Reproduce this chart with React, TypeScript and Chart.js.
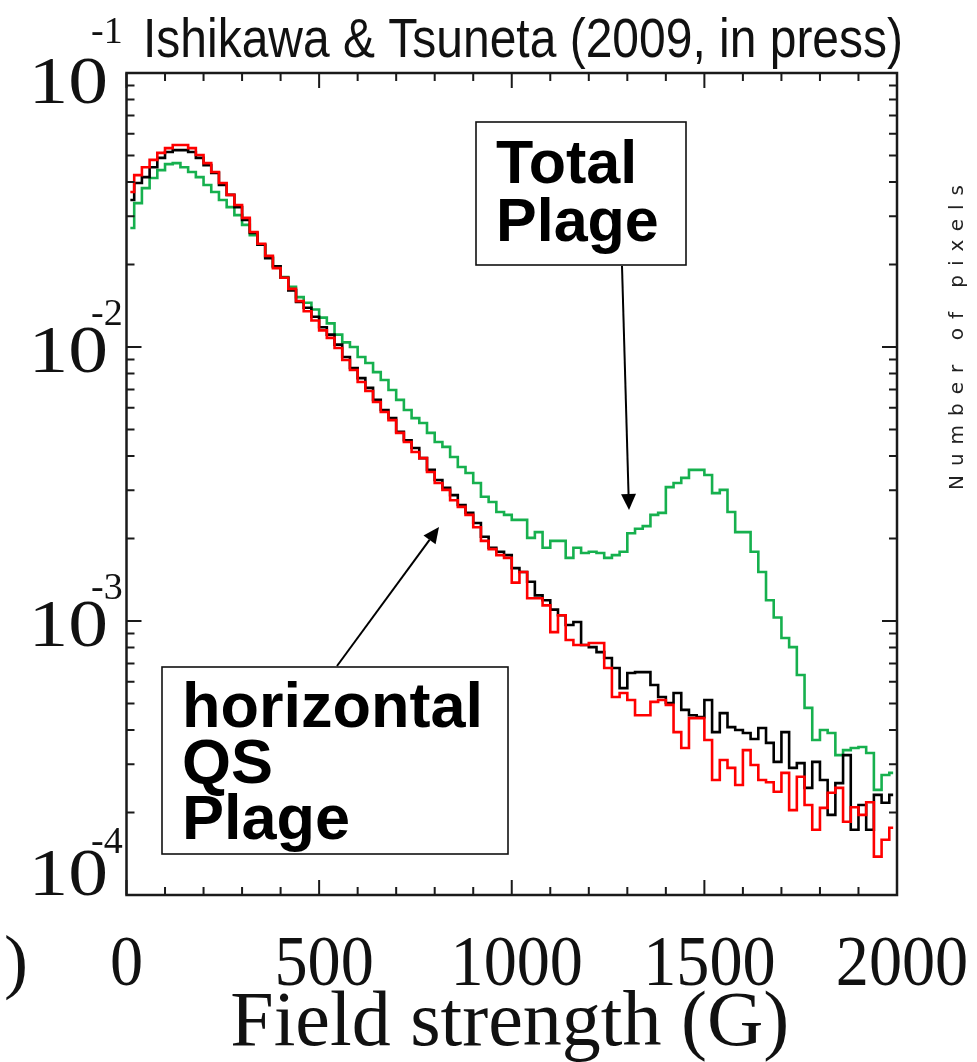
import React, { useEffect, useRef } from "react";
import { Chart, registerables } from "chart.js";

Chart.register(...registerables);

const W = 977;
const H = 1062;

// bin centres (G)
const fieldStrengthG = [
  10, 30, 50, 70, 90, 110, 130, 150, 170, 190,
  210, 230, 250, 270, 290, 310, 330, 350, 370, 390,
  410, 430, 450, 470, 490, 510, 530, 550, 570, 590,
  610, 630, 650, 670, 690, 710, 730, 750, 770, 790,
  810, 830, 850, 870, 890, 910, 930, 950, 970, 990,
  1010, 1030, 1050, 1070, 1090, 1110, 1130, 1150, 1170, 1190,
  1210, 1230, 1250, 1270, 1290, 1310, 1330, 1350, 1370, 1390,
  1410, 1430, 1450, 1470, 1490, 1510, 1530, 1550, 1570, 1590,
  1610, 1630, 1650, 1670, 1690, 1710, 1730, 1750, 1770, 1790,
  1810, 1830, 1850, 1870, 1890, 1910, 1930, 1950, 1970, 1990,
];

// black histogram (horizontal QS)
const horizontalQS = [
  3.44e-2, 3.97e-2, 4.17e-2, 4.53e-2, 4.9e-2, 5.15e-2, 5.23e-2, 5.23e-2, 5.15e-2, 4.9e-2,
  4.61e-2, 4.32e-2, 3.9e-2, 3.59e-2, 3.24e-2, 2.91e-2, 2.61e-2, 2.36e-2, 2.11e-2, 1.97e-2,
  1.79e-2, 1.61e-2, 1.46e-2, 1.39e-2, 1.29e-2, 1.18e-2, 1.11e-2, 1.02e-2, 9.19e-3, 8.38e-3,
  7.7e-3, 7.09e-3, 6.41e-3, 5.89e-3, 5.5e-3, 4.9e-3, 4.57e-3, 4.28e-3, 3.93e-3, 3.56e-3,
  3.27e-3, 3.06e-3, 2.88e-3, 2.65e-3, 2.48e-3, 2.28e-3, 2.03e-3, 1.85e-3, 1.79e-3, 1.74e-3,
  1.56e-3, 1.51e-3, 1.39e-3, 1.24e-3, 1.19e-3, 1.1e-3, 1.05e-3, 9.67e-4, 9.92e-4, 8.17e-4,
  8.03e-4, 7.7e-4, 7.33e-4, 6.74e-4, 5.69e-4, 6.46e-4, 6.51e-4, 6.51e-4, 5.84e-4, 5.28e-4,
  5.02e-4, 5.46e-4, 4.74e-4, 4.53e-4, 4.46e-4, 5.15e-4, 3.93e-4, 4.61e-4, 4.1e-4, 4.0e-4,
  3.9e-4, 3.71e-4, 4.07e-4, 3.59e-4, 3.06e-4, 3.93e-4, 2.91e-4, 3.03e-4, 2.46e-4, 3.06e-4,
  2.63e-4, 1.96e-4, 2.56e-4, 3.24e-4, 1.73e-4, 2.13e-4, 1.73e-4, 2.32e-4, 2.17e-4, 2.32e-4,
];

// red histogram (horizontal Plage)
const horizontalPlage = [
  3.68e-2, 4.24e-2, 4.53e-2, 4.82e-2, 5.11e-2, 5.32e-2, 5.46e-2, 5.46e-2, 5.32e-2, 5.02e-2,
  4.69e-2, 4.35e-2, 3.97e-2, 3.59e-2, 3.3e-2, 2.96e-2, 2.63e-2, 2.38e-2, 2.15e-2, 1.94e-2,
  1.79e-2, 1.63e-2, 1.47e-2, 1.35e-2, 1.25e-2, 1.15e-2, 1.08e-2, 9.92e-3, 8.96e-3, 8.24e-3,
  7.45e-3, 6.91e-3, 6.3e-3, 5.79e-3, 5.41e-3, 4.86e-3, 4.5e-3, 4.14e-3, 3.93e-3, 3.5e-3,
  3.19e-3, 3.01e-3, 2.76e-3, 2.61e-3, 2.44e-3, 2.2e-3, 1.96e-3, 1.83e-3, 1.74e-3, 1.7e-3,
  1.38e-3, 1.51e-3, 1.21e-3, 1.21e-3, 1.14e-3, 9.11e-4, 1.05e-3, 8.52e-4, 8.17e-4, 8.17e-4,
  8.31e-4, 8.31e-4, 6.74e-4, 5.28e-4, 5.46e-4, 5.15e-4, 4.53e-4, 4.53e-4, 5.07e-4, 5.15e-4,
  4.94e-4, 3.93e-4, 3.44e-4, 4.42e-4, 4.42e-4, 3.68e-4, 2.63e-4, 3.11e-4, 2.91e-4, 2.52e-4,
  3.38e-4, 2.98e-4, 2.63e-4, 2.58e-4, 2.38e-4, 2.79e-4, 2.04e-4, 2.7e-4, 2.13e-4, 1.73e-4,
  2.08e-4, 2.36e-4, 2.46e-4, 1.85e-4, 2.09e-4, 1.96e-4, 2.18e-4, 1.38e-4, 1.59e-4, 1.76e-4,
];

// green histogram (Total Plage)
const totalPlage = [
  2.72e-2, 3.35e-2, 3.8e-2, 4.14e-2, 4.42e-2, 4.65e-2, 4.69e-2, 4.53e-2, 4.35e-2, 4.17e-2,
  3.9e-2, 3.68e-2, 3.44e-2, 3.24e-2, 3.03e-2, 2.79e-2, 2.56e-2, 2.36e-2, 2.13e-2, 1.96e-2,
  1.8e-2, 1.66e-2, 1.52e-2, 1.45e-2, 1.37e-2, 1.28e-2, 1.22e-2, 1.11e-2, 1.04e-2, 1.0e-2,
  9.19e-3, 8.74e-3, 8.1e-3, 7.58e-3, 6.97e-3, 6.41e-3, 5.89e-3, 5.5e-3, 5.28e-3, 4.86e-3,
  4.5e-3, 4.32e-3, 3.97e-3, 3.65e-3, 3.47e-3, 3.19e-3, 2.84e-3, 2.72e-3, 2.5e-3, 2.44e-3,
  2.34e-3, 2.34e-3, 2.01e-3, 2.11e-3, 1.85e-3, 1.96e-3, 1.96e-3, 1.7e-3, 1.85e-3, 1.77e-3,
  1.79e-3, 1.77e-3, 1.7e-3, 1.74e-3, 1.79e-3, 2.09e-3, 2.17e-3, 2.22e-3, 2.44e-3, 2.48e-3,
  3.08e-3, 3.19e-3, 3.33e-3, 3.56e-3, 3.56e-3, 3.41e-3, 2.93e-3, 3.01e-3, 2.5e-3, 2.11e-3,
  2.11e-3, 1.79e-3, 1.51e-3, 1.19e-3, 1.03e-3, 8.67e-4, 8.03e-4, 6.35e-4, 4.82e-4, 3.68e-4,
  4.0e-4, 3.9e-4, 3.24e-4, 3.38e-4, 3.44e-4, 3.47e-4, 3.3e-4, 2.42e-4, 2.74e-4, 2.79e-4,
];

const xTickValues = [0, 500, 1000, 1500, 2000];
const xTickLabels = ["0", "500", "1000", "1500", "2000"];
const yTickValues = [1e-1, 1e-2, 1e-3, 1e-4];
const yTickExponents = ["-1", "-2", "-3", "-4"];

const titleText = "Ishikawa & Tsuneta (2009, in press)";
const xAxisTitle = "Field strength (G)";
const sideLabel = "Number of pixels";
const totalBoxLines = ["Total", "Plage"];
const horizBoxLines = ["horizontal", "QS", "Plage"];
const cutLabel = ")";

const SERIF = "'Liberation Serif', 'Times New Roman', serif";
const SANS = "'Liberation Sans', Arial, sans-serif";

function toPoints(vals: number[]) {
  return vals.map((v, i) => ({ x: fieldStrengthG[i], y: v }));
}

function stretched(ctx: CanvasRenderingContext2D, text: string, x: number, y: number, sx: number, align: CanvasTextAlign) {
  ctx.save();
  ctx.translate(x, y);
  ctx.scale(sx, 1);
  ctx.textAlign = align;
  ctx.textBaseline = "alphabetic";
  ctx.fillText(text, 0, 0);
  ctx.restore();
}

function arrow(ctx: CanvasRenderingContext2D, x1: number, y1: number, x2: number, y2: number) {
  const ang = Math.atan2(y2 - y1, x2 - x1);
  const hl = 16;
  const hw = 7.5;
  const bx = x2 - hl * Math.cos(ang);
  const by = y2 - hl * Math.sin(ang);
  ctx.beginPath();
  ctx.moveTo(x1, y1);
  ctx.lineTo(bx, by);
  ctx.stroke();
  ctx.beginPath();
  ctx.moveTo(x2, y2);
  ctx.lineTo(bx + hw * Math.sin(ang), by - hw * Math.cos(ang));
  ctx.lineTo(bx - hw * Math.sin(ang), by + hw * Math.cos(ang));
  ctx.closePath();
  ctx.fill();
}

const decorPlugin = {
  id: "decor",
  afterDatasetsDraw(chart: any) {
    const ctx: CanvasRenderingContext2D = chart.ctx;
    const xs = chart.scales.x;
    const ys = chart.scales.y;
    const { left, right, top, bottom } = chart.chartArea;
    ctx.save();

    // frame
    ctx.strokeStyle = "#1a1a1a";
    ctx.lineWidth = 2.5;
    ctx.strokeRect(left, top, right - left, bottom - top);

    // x ticks (inward, top & bottom)
    ctx.lineWidth = 2;
    for (let g = 0; g <= 2000; g += 100) {
      const px = xs.getPixelForValue(g);
      const len = g % 500 === 0 ? 15 : 8;
      ctx.beginPath();
      ctx.moveTo(px, bottom);
      ctx.lineTo(px, bottom - len);
      ctx.moveTo(px, top);
      ctx.lineTo(px, top + len);
      ctx.stroke();
    }
    // y ticks (inward, left & right)
    for (let e = -4; e <= -1; e++) {
      for (let m = 1; m <= 9; m++) {
        if (e === -1 && m > 1) break;
        const py = ys.getPixelForValue(m * Math.pow(10, e));
        const len = m === 1 ? 15 : 8;
        ctx.beginPath();
        ctx.moveTo(left, py);
        ctx.lineTo(left + len, py);
        ctx.moveTo(right, py);
        ctx.lineTo(right - len, py);
        ctx.stroke();
      }
    }

    // x tick labels
    ctx.fillStyle = "#111";
    ctx.font = `72px ${SERIF}`;
    xTickValues.forEach((v, i) => {
      const px = xs.getPixelForValue(v);
      stretched(ctx, xTickLabels[i], px + (i === 0 ? 0 : 5), 985, 0.92, "center");
    });
    stretched(ctx, cutLabel, 4, 985, 1, "left");

    // x axis title
    ctx.font = `78px ${SERIF}`;
    stretched(ctx, xAxisTitle, (left + right) / 2 - 2, 1045, 1.0, "center");

    // y tick labels 10^e
    const nudge = [5, 0, 0, -25];
    const supOff = [-60, -47, -47, -42];
    yTickValues.forEach((v, i) => {
      const py = ys.getPixelForValue(v);
      const base = py + 25 + nudge[i];
      ctx.font = `68px ${SERIF}`;
      stretched(ctx, "10", 108, base, 1.17, "right");
      ctx.font = `38px ${SERIF}`;
      stretched(ctx, yTickExponents[i], 91, base + supOff[i], 1.0, "left");
    });

    // title
    ctx.font = `56px ${SANS}`;
    const tw = ctx.measureText(titleText).width;
    stretched(ctx, titleText, 143, 57, 760 / tw, "left");

    // side label
    ctx.save();
    ctx.font = `20px 'DejaVu Sans', sans-serif`;
    ctx.fillStyle = "#222";
    const sw = ctx.measureText(sideLabel).width;
    const spacing = (305 - sw) / (sideLabel.length - 1);
    (ctx as any).letterSpacing = `${spacing}px`;
    ctx.translate(963, 490);
    ctx.rotate(-Math.PI / 2);
    ctx.textAlign = "left";
    ctx.textBaseline = "alphabetic";
    ctx.fillText(sideLabel, 0, 0);
    ctx.restore();

    // annotation boxes
    ctx.strokeStyle = "#111";
    ctx.lineWidth = 1.6;
    ctx.fillStyle = "#fff";
    ctx.fillRect(476, 122, 210, 143);
    ctx.strokeRect(476, 122, 210, 143);
    ctx.fillRect(162, 667, 346, 187);
    ctx.strokeRect(162, 667, 346, 187);

    ctx.fillStyle = "#000";
    ctx.font = `bold 61px ${SANS}`;
    totalBoxLines.forEach((t, i) => stretched(ctx, t, 496, 183 + i * 58, 1, "left"));
    ctx.font = `bold 63px ${SANS}`;
    horizBoxLines.forEach((t, i) => stretched(ctx, t, 182, 727 + i * 56, 1, "left"));

    // arrows
    ctx.strokeStyle = "#000";
    ctx.fillStyle = "#000";
    ctx.lineWidth = 2;
    arrow(ctx, 622, 266, 629, 510);
    arrow(ctx, 337, 666, 439, 527);

    ctx.restore();
  },
};

export default function App() {
  const ref = useRef<HTMLCanvasElement | null>(null);
  useEffect(() => {
    if (!ref.current) return;
    const chart = new Chart(ref.current, {
      type: "line",
      data: {
        datasets: [
          {
            label: "Plage (horizontal)",
            data: toPoints(horizontalPlage),
            borderColor: "#ff0000",
            borderWidth: 2.6,
            stepped: "middle",
            pointRadius: 0,
            fill: false,
          },
          {
            label: "QS (horizontal)",
            data: toPoints(horizontalQS),
            borderColor: "#000000",
            borderWidth: 2.6,
            stepped: "middle",
            pointRadius: 0,
            fill: false,
          },
          {
            label: "Total Plage",
            data: toPoints(totalPlage),
            borderColor: "#16b04e",
            borderWidth: 2.6,
            stepped: "middle",
            pointRadius: 0,
            fill: false,
          },
        ],
      },
      options: {
        responsive: false,
        animation: false,
        events: [],
        layout: { padding: { left: 126.5, right: W - 897, top: 73, bottom: H - 895 } },
        plugins: { legend: { display: false }, tooltip: { enabled: false }, title: { display: false } },
        scales: {
          x: { type: "linear", min: 0, max: 2000, display: false },
          y: { type: "logarithmic", min: 1e-4, max: 1e-1, display: false },
        },
      } as any,
      plugins: [decorPlugin],
    });
    return () => chart.destroy();
  }, []);
  return (
    <div style={{ position: "absolute", left: 0, top: 0, width: W, height: H, background: "#fff" }}>
      <canvas ref={ref} width={W} height={H} style={{ display: "block" }} />
    </div>
  );
}
